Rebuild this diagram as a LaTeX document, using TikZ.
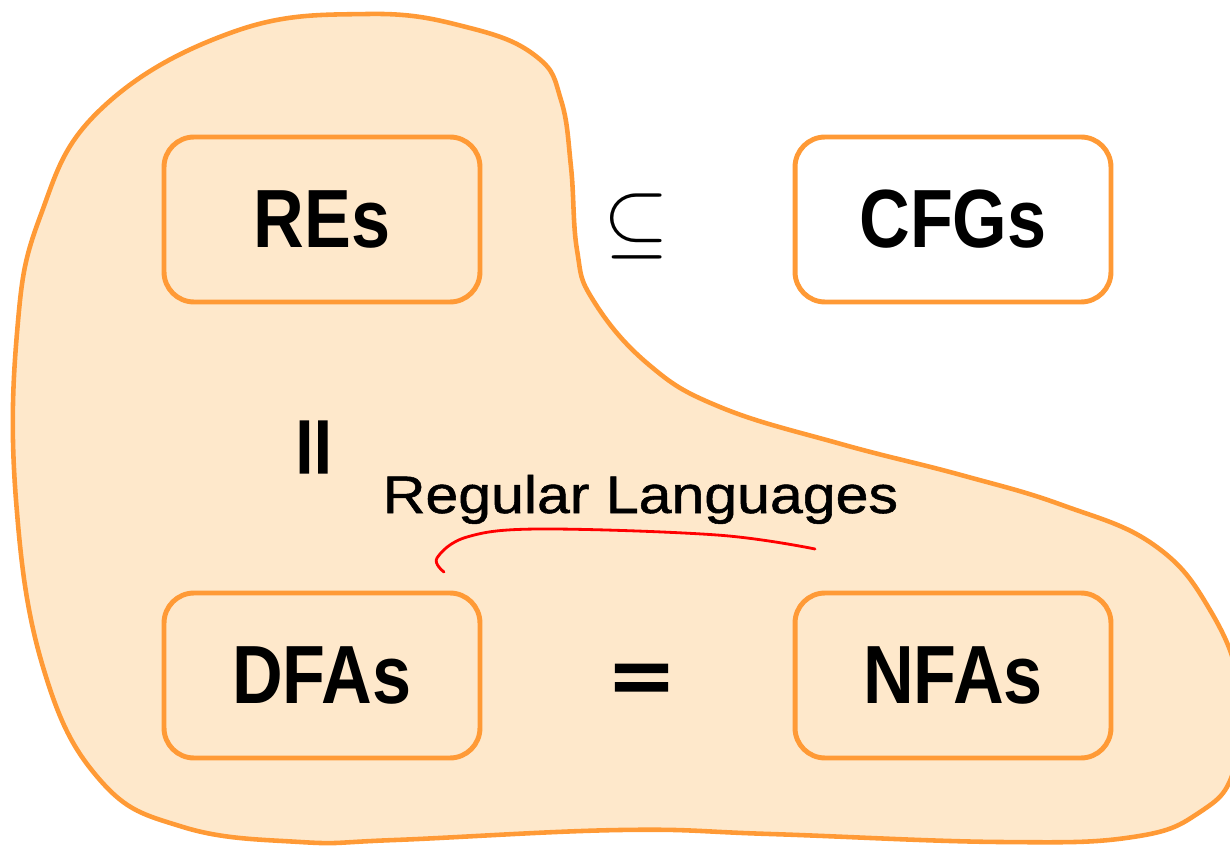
\documentclass[tikz,border=0pt]{standalone}
\usepackage{fontspec}
\setmainfont{Liberation Sans}
\newfontfamily\boxfont{Liberation Sans}[FakeStretch=0.85]
\newfontfamily\labelfont{Liberation Sans}[FakeStretch=1.12, FakeBold=1]
\newfontfamily\signfont{Liberation Sans}[FakeBold=3]
\definecolor{blobfill}{HTML}{FEE8CB}
\definecolor{bloborange}{HTML}{FF9A36}
\tikzset{
  classbox/.style={draw=bloborange, line width=2.8pt, rounded corners=0.6cm,
    minimum width=6.32cm, minimum height=3.3cm,
    font={\boxfont\bfseries\fontsize{47}{50}\selectfont}},
  relsign/.style={font={\signfont\bfseries\fontsize{60}{60}\selectfont}}
}

\begin{document}
\begin{tikzpicture}[x=0.02cm, y=-0.02cm]
  \useasboundingbox (0,0) rectangle (1230,847);

  % Region of the regular languages
  \begin{scope}
    \clip (0,0) rectangle (1230,847);
    \draw[draw=bloborange, fill=blobfill, line width=2.6pt]
      plot[smooth cycle, tension=0.7] coordinates {
        (368,14) (470,28) (537,57) (561,100) (571,167) (577,250) (593,300)
        (648,364) (720,407) (841,444) (961,475) (1062,505) (1154,545)
        (1210,610) (1240,690) (1234,770) (1200,812) (1133,837) (1000,842)
        (770,834) (620,830) (395,840) (300,842) (183,827)
        (100,780) (43,667) (16,500)
        (17,333) (40,217) (100,110) (233,32)};
  \end{scope}

  % Formalisms
  \node[classbox] (res) at (322,219.5) {REs};
  \node[classbox] (cfgs) at (953,219.5) {CFGs};
  \node[classbox] (dfas) at (322,675.5) {DFAs};
  \node[classbox] (nfas) at (953,675.5) {NFAs};

  % Relations between them
  \node (subset) at (636.5,226) {\scalebox{4.8}{$\subseteq$}};
  \node[relsign] (eqh) at (641.5,682.5) {\scalebox{0.95}[0.65]{=}};
  \node[relsign, rotate=90] (eqv) at (318.5,447) {\scalebox{0.95}[0.65]{=}};

  % Region label and its hand-drawn mark
  \node[anchor=base, font={\labelfont\fontsize{30}{36}\selectfont}] (reglang)
    at (640.5,513) {Regular Languages};
  \draw[red, line width=1.6pt, line cap=round]
    plot[smooth, tension=0.6] coordinates {
      (444,572) (437,558) (467,537) (539,529) (717,535) (815,549)};
\end{tikzpicture}
\end{document}
